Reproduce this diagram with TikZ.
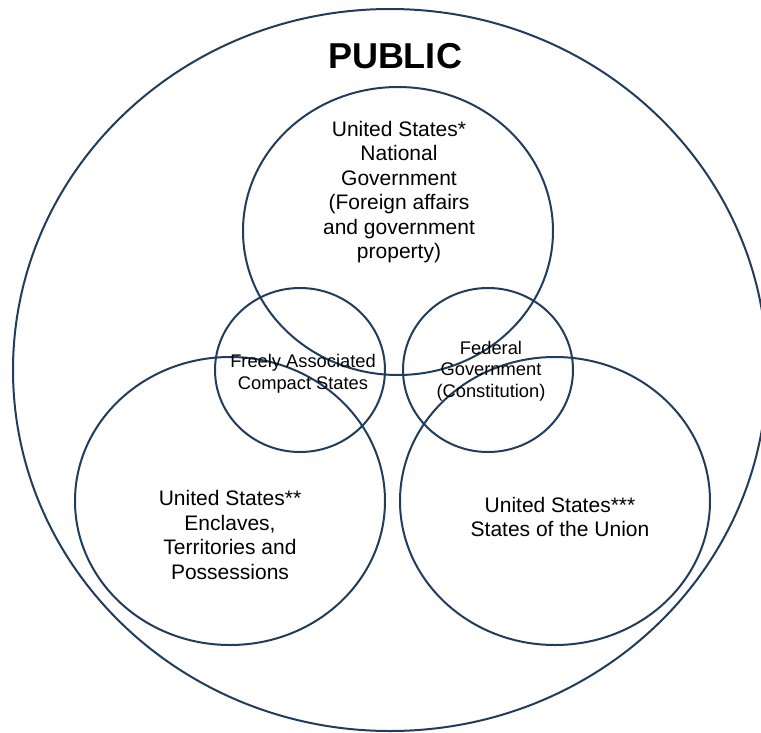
\documentclass[tikz,border=0pt]{standalone}
\usepackage{fontspec}
\setmainfont{Liberation Sans}
\usetikzlibrary{shapes.geometric}
\definecolor{ringcol}{RGB}{33,61,91}
\tikzset{
  ring/.style={ellipse, draw=ringcol, line width=2pt, inner sep=0pt},
  bigtxt/.style={align=center, font=\fontsize{21}{24.5}\selectfont, text=black},
  smalltxt/.style={align=center, font=\fontsize{18.3}{21.5}\selectfont, text=black},
  titletxt/.style={font=\fontsize{36}{40}\selectfont\bfseries, text=black}
}
\begin{document}
\begin{tikzpicture}[x=1pt,y=-1pt]
\useasboundingbox (0,0) rectangle (761,732);
\clip (0,0) rectangle (761,732);
\fill[white] (0,0) rectangle (761,732);
% rings
\node[ring, minimum width=754pt, minimum height=722pt] (public) at (390,370) {};
\node[ring, minimum width=310pt, minimum height=288pt] (national) at (398,231) {};
\node[ring, minimum width=170pt, minimum height=164pt] (freely) at (300,370) {};
\node[ring, minimum width=170pt, minimum height=164pt] (federal) at (488,370) {};
\node[ring, minimum width=310pt, minimum height=288pt] (enclaves) at (230,501) {};
\node[ring, minimum width=310pt, minimum height=288pt] (states) at (555,501) {};
% labels
\node[titletxt] (publictxt) at (395,56) {PUBLIC};
\node[bigtxt] (nationaltxt) at (399,192) {United States*\\National\\Government\\(Foreign affairs\\and government\\property)};
\node[smalltxt] (freelytxt) at (303,374) {Freely Associated\\Compact States};
\node[smalltxt] (federaltxt) at (491,371) {Federal\\Government\\(Constitution)};
\node[bigtxt] (enclavestxt) at (230,535) {United States**\\Enclaves,\\Territories and\\Possessions};
\node[bigtxt] (statestxt) at (560,517) {United States***\\States of the Union};
\end{tikzpicture}
\end{document}
